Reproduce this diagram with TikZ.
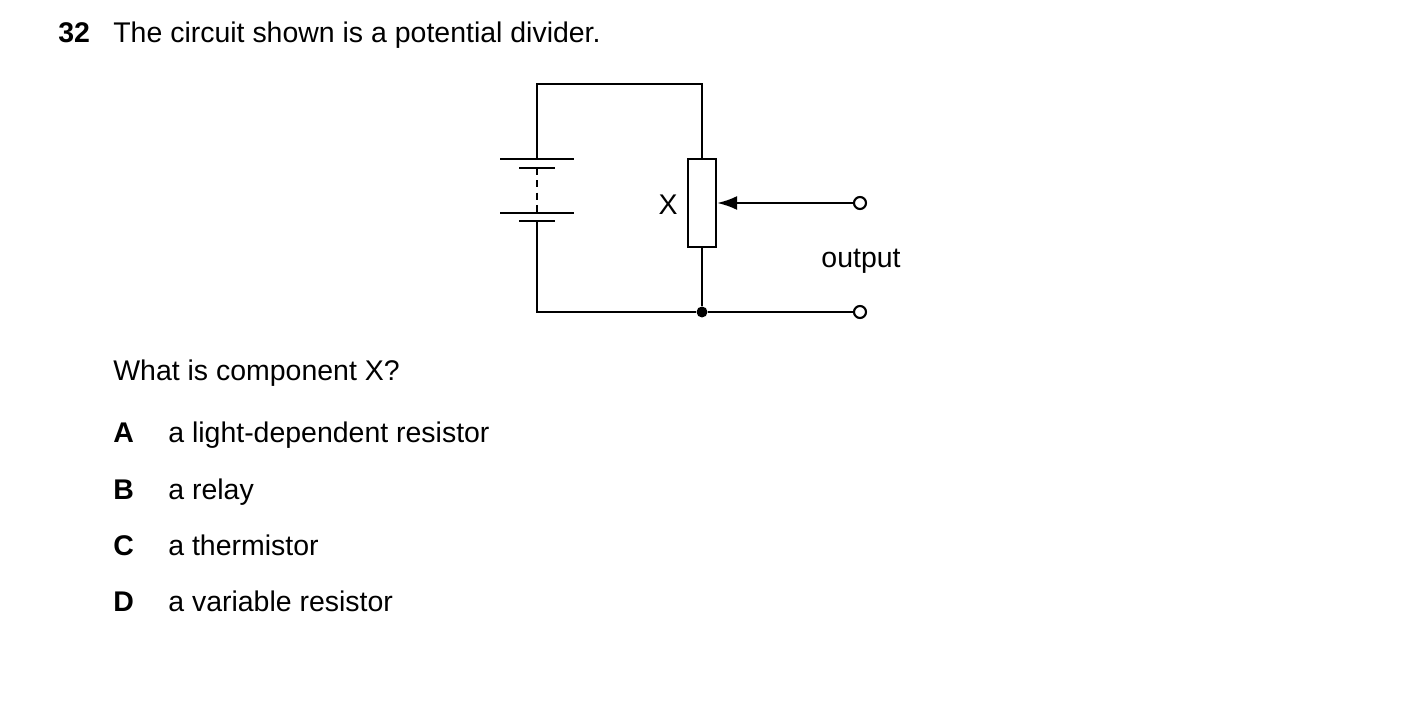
\documentclass[tikz,border=0pt]{standalone}
\usepackage{fontspec}
\setmainfont{Liberation Sans}
\usetikzlibrary{positioning}
\usetikzlibrary{arrows.meta}
\begin{document}
\begin{tikzpicture}[
    x=0.02cm, y=-0.02cm,
    txt/.style={anchor=base west, inner sep=0pt, font=\fontsize{16.2}{19}\selectfont},
    bold/.style={txt, font=\fontsize{16.2}{19}\selectfont\bfseries},
    lbl/.style={inner sep=0pt, font=\fontsize{16.2}{19}\selectfont},
    wire/.style={line width=1.3pt},
    plate/.style={line width=1.5pt},
    res/.style={draw, line width=1.3pt, minimum width=0.56cm, minimum height=1.76cm, inner sep=0pt},
    term/.style={circle, draw, line width=1.2pt, fill=white, minimum size=0.24cm, inner sep=0pt},
    arr/.style={line width=1.3pt, -{Latex[length=0.4cm, width=0.28cm]}}
    ]
    \useasboundingbox (0,0) rectangle (1403,709);
    % question text
    \node (num) [bold] at (58,43) {32};
    \node (q) [txt] at (113,43) {The circuit shown is a potential divider.};
    \node (ask) [txt] at (113,381) {What is component X?};
    \node (la) [bold] at (113,442) {A};
    \node (ta) [txt] at (168,442) {a light-dependent resistor};
    \node (lb) [bold] at (113,499) {B};
    \node (tb) [txt] at (168,499) {a relay};
    \node (lc) [bold] at (113,555) {C};
    \node (tc) [txt] at (168,555) {a thermistor};
    \node (ld) [bold] at (113,611) {D};
    \node (td) [txt] at (168,611) {a variable resistor};
    % circuit
    \coordinate (tl) at (537,84);
    \coordinate (tr) at (702,84);
    \coordinate (bl) at (537,312);
    \node (x) [res] at (702,203) {};
    \node (j) [circle, fill, minimum size=0.22cm, inner sep=0pt] at (702,312) {};
    \node (o1) [term] at (860,203) {};
    \node (o2) [term] at (860,312) {};
    \node (xl) [lbl] at (668,205) {X};
    \node (out) [lbl] at (861,261) {output};
    \coordinate (c1) at (537,159);
    \coordinate (c2) at (537,168);
    \coordinate (c3) at (537,213);
    \coordinate (c4) at (537,221);
    \draw[plate] (500,159) -- (574,159);
    \draw[plate] (519,168) -- (555,168);
    \draw[plate] (500,213) -- (574,213);
    \draw[plate] (519,221) -- (555,221);
    \draw[wire, dash pattern=on 4pt off 3pt] (c2) -- (c3);
    \draw[wire] (c1) -- (tl) -- (tr) -- (x.north);
    \draw[wire] (c4) -- (bl) -- (j) -- (o2);
    \draw[wire] (x.south) -- (j);
    \draw[arr] (o1) -- (x.east);
\end{tikzpicture}
\end{document}
